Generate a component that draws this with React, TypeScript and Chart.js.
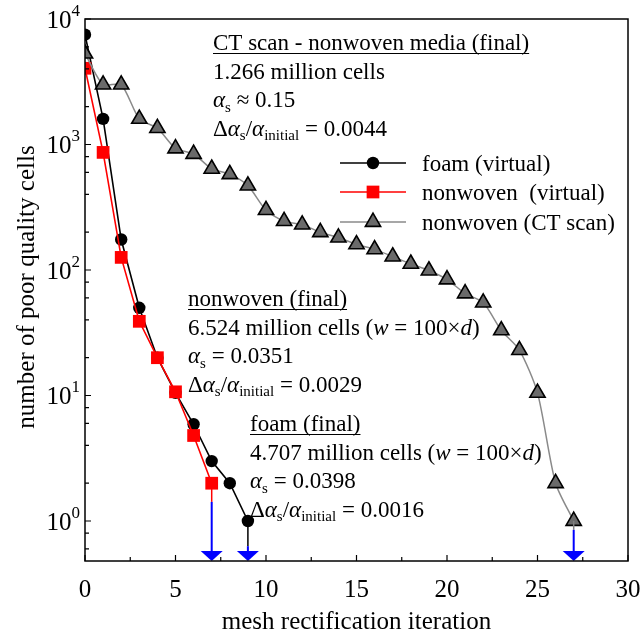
import React, { useEffect, useRef } from "react";
import { Chart, registerables } from "chart.js";

Chart.register(...registerables);

// ---------------- data ----------------
const foamIter = [0, 1, 2, 3, 4, 5, 6, 7, 8, 9];
const foamCells = [7500, 1600, 175, 50, 20, 10.5, 5.9, 3, 2, 1];

const nonwovenIter = [0, 1, 2, 3, 4, 5, 6, 7];
const nonwovenCells = [4050, 865, 126, 39, 20, 10.7, 4.8, 2];

const ctIter = [
  0, 1, 2, 3, 4, 5, 6, 7, 8, 9, 10, 11, 12, 13, 14, 15, 16, 17, 18, 19, 20,
  21, 22, 23, 24, 25, 26, 27,
];
const ctCells = [
  5300, 3000, 3000, 1600, 1350, 930, 840, 640, 580, 470, 300, 245, 230, 200,
  181, 160, 146, 128, 112, 99, 84, 65, 55, 33, 23, 10.5, 2, 1,
];

const xMajorTicks = [0, 5, 10, 15, 20, 25, 30];
const xMinorTicks = [2.5, 7.5, 12.5, 17.5, 22.5, 27.5];
const yDecadeExps = [0, 1, 2, 3, 4];
const yMinorMultipliers = [2, 4, 6, 8];

// arrows marking the final iteration of each series
const arrowIter = [7, 9, 27];
const arrowFromCells = [2, 1, 1];
const arrowStartCells = [1.42, 0.63, 0.85];
const arrowLinkColors = ["#ff0000", "#000000", "#808080"];

const legendLabels = ["foam (virtual)", "nonwoven  (virtual)", "nonwoven (CT scan)"];

const FONT = '"Liberation Serif", "Times New Roman", serif';

type Seg = { t: string; i?: boolean; sub?: boolean };

function drawRich(ctx: CanvasRenderingContext2D, x: number, y: number, segs: Seg[], size: number) {
  let cx = x;
  for (const s of segs) {
    const fs = s.sub ? Math.round(size * 0.66) : size;
    ctx.font = `${s.i ? "italic " : ""}${fs}px ${FONT}`;
    const dy = s.sub ? size * 0.2 : 0;
    ctx.fillText(s.t, cx, y + dy);
    cx += ctx.measureText(s.t).width;
  }
  return cx - x;
}

const alphaS = (rest: string): Seg[] => [{ t: "α", i: true }, { t: "s", sub: true }, { t: rest }];
const deltaRatio = (rest: string): Seg[] => [
  { t: "Δ" },
  { t: "α", i: true },
  { t: "s", sub: true },
  { t: "/" },
  { t: "α", i: true },
  { t: "initial", sub: true },
  { t: rest },
];

const annotations: { x: number; y: number; lines: Seg[][] }[] = [
  {
    x: 213,
    y: 50,
    lines: [
      [{ t: "CT scan - nonwoven media (final)" }],
      [{ t: "1.266 million cells" }],
      alphaS(" ≈ 0.15"),
      deltaRatio(" = 0.0044"),
    ],
  },
  {
    x: 188,
    y: 306,
    lines: [
      [{ t: "nonwoven (final)" }],
      [{ t: "6.524 million cells (" }, { t: "w", i: true }, { t: " = 100×" }, { t: "d", i: true }, { t: ")" }],
      alphaS(" = 0.0351"),
      deltaRatio(" = 0.0029"),
    ],
  },
  {
    x: 250,
    y: 431,
    lines: [
      [{ t: "foam (final)" }],
      [{ t: "4.707 million cells (" }, { t: "w", i: true }, { t: " = 100×" }, { t: "d", i: true }, { t: ")" }],
      alphaS(" = 0.0398"),
      deltaRatio(" = 0.0016"),
    ],
  },
];

const decorPlugin = {
  id: "decor",
  afterDraw(chart: any) {
    const ctx: CanvasRenderingContext2D = chart.ctx;
    const { left, right, top, bottom } = chart.chartArea;
    const xs = chart.scales.x;
    const ys = chart.scales.y;
    ctx.save();

    // arrows
    for (let i = 0; i < arrowIter.length; i++) {
      const px = xs.getPixelForValue(arrowIter[i]);
      const pFrom = ys.getPixelForValue(arrowFromCells[i]);
      const pStart = ys.getPixelForValue(arrowStartCells[i]);
      ctx.strokeStyle = arrowLinkColors[i];
      ctx.lineWidth = 1.5;
      ctx.beginPath();
      ctx.moveTo(px, pFrom);
      ctx.lineTo(px, pStart);
      ctx.stroke();
      const headH = 10;
      ctx.strokeStyle = "#0000ff";
      ctx.lineWidth = 2;
      ctx.beginPath();
      ctx.moveTo(px, pStart);
      ctx.lineTo(px, bottom - headH + 1);
      ctx.stroke();
      ctx.fillStyle = "#0000ff";
      ctx.beginPath();
      ctx.moveTo(px - 11, bottom - headH);
      ctx.lineTo(px + 11, bottom - headH);
      ctx.lineTo(px, bottom);
      ctx.closePath();
      ctx.fill();
    }

    // frame
    ctx.strokeStyle = "#000";
    ctx.lineWidth = 1.5;
    ctx.strokeRect(left, top, right - left, bottom - top);

    // x ticks (inward)
    ctx.lineWidth = 1.2;
    ctx.beginPath();
    for (const v of xMajorTicks) {
      const px = xs.getPixelForValue(v);
      ctx.moveTo(px, bottom);
      ctx.lineTo(px, bottom - 6);
    }
    for (const v of xMinorTicks) {
      const px = xs.getPixelForValue(v);
      ctx.moveTo(px, bottom);
      ctx.lineTo(px, bottom - 4);
    }
    // y ticks (inward)
    for (const e of yDecadeExps) {
      const py = ys.getPixelForValue(Math.pow(10, e));
      ctx.moveTo(left, py);
      ctx.lineTo(left + 6, py);
    }
    for (let e = -1; e <= 4; e++) {
      for (const m of yMinorMultipliers) {
        const v = m * Math.pow(10, e);
        if (v < ys.min || v > ys.max) continue;
        const py = ys.getPixelForValue(v);
        ctx.moveTo(left, py);
        ctx.lineTo(left + 4, py);
      }
    }
    ctx.stroke();

    // tick labels
    ctx.fillStyle = "#000";
    ctx.textBaseline = "alphabetic";
    ctx.font = `25px ${FONT}`;
    ctx.textAlign = "center";
    for (const v of xMajorTicks) {
      ctx.fillText(String(v), xs.getPixelForValue(v), bottom + 36);
    }
    for (const e of yDecadeExps) {
      const py = ys.getPixelForValue(Math.pow(10, e));
      ctx.textAlign = "right";
      ctx.font = `17px ${FONT}`;
      const supW = ctx.measureText(String(e)).width;
      const supRight = left - 5;
      ctx.fillText(String(e), supRight, py - 3);
      ctx.font = `25px ${FONT}`;
      ctx.fillText("10", supRight - supW, py + 9);
    }

    // axis titles
    ctx.textAlign = "center";
    ctx.textBaseline = "middle";
    ctx.font = `25px ${FONT}`;
    ctx.fillText("mesh rectification iteration", (left + right) / 2, 622);
    ctx.save();
    ctx.translate(27, (top + bottom) / 2 - 3);
    ctx.rotate(-Math.PI / 2);
    ctx.fillText("number of poor quality cells", 0, 0);
    ctx.restore();

    // legend
    const ds = chart.data.datasets;
    const rows = [163, 192, 222];
    for (let i = 0; i < 3; i++) {
      const d = ds[i];
      const y = rows[i];
      ctx.strokeStyle = d.borderColor;
      ctx.lineWidth = d.borderWidth;
      ctx.beginPath();
      ctx.moveTo(340, y);
      ctx.lineTo(406, y);
      ctx.stroke();
      const r = d.pointRadius;
      ctx.fillStyle = d.pointBackgroundColor;
      ctx.strokeStyle = d.pointBorderColor;
      ctx.lineWidth = d.pointBorderWidth;
      ctx.beginPath();
      const cx = 373;
      if (d.pointStyle === "circle") {
        ctx.arc(cx, y, r, 0, Math.PI * 2);
      } else if (d.pointStyle === "rect") {
        const s = r * Math.SQRT1_2;
        ctx.rect(cx - s, y - s, 2 * s, 2 * s);
      } else {
        for (let k = 0; k < 3; k++) {
          const a = (k * 2 * Math.PI) / 3;
          const px = cx + Math.sin(a) * r;
          const py = y - Math.cos(a) * r;
          if (k === 0) ctx.moveTo(px, py);
          else ctx.lineTo(px, py);
        }
        ctx.closePath();
      }
      ctx.fill();
      if (d.pointBorderWidth > 0) ctx.stroke();
      ctx.fillStyle = "#000";
      ctx.textAlign = "left";
      ctx.textBaseline = "alphabetic";
      ctx.font = `23px ${FONT}`;
      ctx.fillText(legendLabels[i], 422, y + 8);
    }

    // annotations
    ctx.textAlign = "left";
    ctx.textBaseline = "alphabetic";
    ctx.fillStyle = "#000";
    for (const a of annotations) {
      a.lines.forEach((segs, li) => {
        const by = a.y + li * 28.5;
        const w = drawRich(ctx, a.x, by, segs, 23);
        if (li === 0) {
          ctx.strokeStyle = "#000";
          ctx.lineWidth = 1.2;
          ctx.beginPath();
          ctx.moveTo(a.x, by + 3.5);
          ctx.lineTo(a.x + w, by + 3.5);
          ctx.stroke();
        }
      });
    }

    ctx.restore();
  },
};

export default function App() {
  const ref = useRef<HTMLCanvasElement | null>(null);
  useEffect(() => {
    if (!ref.current) return;
    const chart = new Chart(ref.current, {
      type: "line",
      data: {
        datasets: [
          {
            label: legendLabels[0],
            data: foamIter.map((x, i) => ({ x, y: foamCells[i] })),
            borderColor: "#000000",
            backgroundColor: "#000000",
            borderWidth: 1.6,
            pointStyle: "circle",
            pointRadius: 6.2,
            pointBackgroundColor: "#000000",
            pointBorderColor: "#000000",
            pointBorderWidth: 0,
            tension: 0,
            order: 3,
            clip: 0,
          } as any,
          {
            label: legendLabels[1],
            data: nonwovenIter.map((x, i) => ({ x, y: nonwovenCells[i] })),
            borderColor: "#ff0000",
            backgroundColor: "#ff0000",
            borderWidth: 1.6,
            pointStyle: "rect",
            pointRadius: 9,
            pointBackgroundColor: "#ff0000",
            pointBorderColor: "#ff0000",
            pointBorderWidth: 0,
            tension: 0,
            order: 2,
            clip: 0,
          } as any,
          {
            label: legendLabels[2],
            data: ctIter.map((x, i) => ({ x, y: ctCells[i] })),
            borderColor: "#8a8a8a",
            backgroundColor: "#6a6a6a",
            borderWidth: 1.5,
            pointStyle: "triangle",
            pointRadius: 8.8,
            pointBackgroundColor: "#6a6a6a",
            pointBorderColor: "#000000",
            pointBorderWidth: 1.6,
            tension: 0.25,
            order: 1,
            clip: 0,
          } as any,
        ],
      },
      options: {
        responsive: false,
        devicePixelRatio: 1,
        animation: false,
        events: [],
        layout: { padding: { left: 0, top: 19, right: 12, bottom: 0 } },
        plugins: { legend: { display: false }, tooltip: { enabled: false } },
        scales: {
          x: {
            type: "linear",
            min: 0,
            max: 30,
            ticks: { display: false },
            grid: { display: false, drawTicks: false },
            border: { display: false },
            afterFit: (s: any) => {
              s.height = 74;
            },
          },
          y: {
            type: "logarithmic",
            min: 0.48,
            max: 10000,
            ticks: { display: false },
            grid: { display: false, drawTicks: false },
            border: { display: false },
            afterFit: (s: any) => {
              s.width = 85;
            },
          },
        },
      } as any,
      plugins: [decorPlugin],
    });
    return () => chart.destroy();
  }, []);
  return (
    <div style={{ position: "fixed", left: 0, top: 0, width: 640, height: 635, background: "#fff" }}>
      <canvas ref={ref} width={640} height={635} style={{ width: 640, height: 635, display: "block" }} />
    </div>
  );
}
